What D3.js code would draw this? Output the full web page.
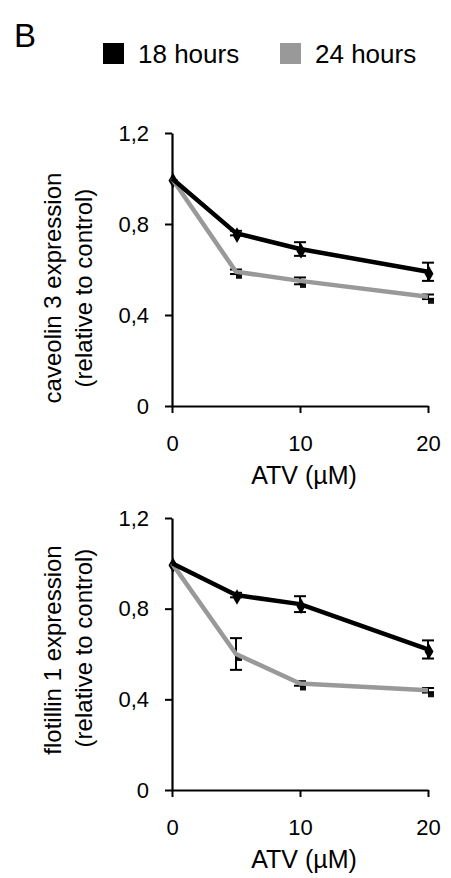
<!DOCTYPE html>
<html>
<head>
<meta charset="utf-8">
<script src="https://cdn.jsdelivr.net/npm/d3@7"></script>
<style>
  body { margin: 0; background: #fff; }
  svg { font-family: "Liberation Sans", Arial, sans-serif; }
</style>
</head>
<body>
<svg id="chart" width="451" height="878"></svg>
<script>
// ATV dose (µM) and tick labels
const doses = [0, 5, 10, 20];
const xTicks = [0, 10, 20];
const yTicks = [0, 0.4, 0.8, 1.2];
const seriesNames = ["18 hours", "24 hours"];

// caveolin 3
const cav18 = [1.0, 0.76, 0.69, 0.59];
const cav18Err = [0, 0.01, 0.03, 0.04];
const cav24 = [1.0, 0.59, 0.55, 0.48];
const cav24Err = [0, 0.01, 0.015, 0.01];

// flotillin 1
const flo18 = [1.0, 0.86, 0.82, 0.62];
const flo18Err = [0, 0.01, 0.035, 0.04];
const flo24 = [1.0, 0.60, 0.47, 0.44];
const flo24Err = [0, 0.07, 0.01, 0.01];

const colors = ["#000000", "#999999"];

const svg = d3.select("#chart");

// panel label
svg.append("text")
  .attr("x", 14).attr("y", 47)
  .attr("font-size", 33)
  .text("B");

// legend
const legendX = [103, 280];
seriesNames.forEach((name, i) => {
  svg.append("rect")
    .attr("x", legendX[i]).attr("y", 43)
    .attr("width", 21).attr("height", 21)
    .attr("fill", colors[i]);
  svg.append("text")
    .attr("x", legendX[i] + 35).attr("y", 63)
    .attr("font-size", 26)
    .text(name);
});

const x = d3.scaleLinear().domain([0, 20]).range([172, 428]);

function panel(y0, y1, titleLines, titleY, s18, e18, s24, e24) {
  const y = d3.scaleLinear().domain([0, 1.2]).range([y0, y1]);
  const g = svg.append("g");

  // axes
  const yAxis = d3.axisLeft(y)
    .tickValues(yTicks)
    .tickSize(7).tickSizeOuter(0).tickPadding(16)
    .tickFormat(d => d3.format("~g")(d).replace(".", ","));
  const ya = g.append("g").attr("transform", `translate(${x(0)},0)`).call(yAxis);

  const xAxis = d3.axisBottom(x)
    .tickValues(xTicks)
    .tickSize(7).tickSizeOuter(0).tickPadding(22)
    .tickFormat(d3.format("d"));
  const xa = g.append("g").attr("transform", `translate(0,${y0})`).call(xAxis);

  [ya, xa].forEach(a => {
    a.select(".domain").attr("stroke", "#000").attr("stroke-width", 2.2);
    a.selectAll(".tick line").attr("stroke", "#000").attr("stroke-width", 2);
    a.selectAll("text").attr("font-size", 22).attr("fill", "#000")
      .attr("font-family", "Liberation Sans, Arial, sans-serif");
  });

  // axis titles
  g.append("text")
    .attr("x", x(10) + 4).attr("y", y0 + 78)
    .attr("text-anchor", "middle").attr("font-size", 25)
    .text("ATV (µM)");

  titleLines.forEach((t, i) => {
    g.append("text")
      .attr("transform", `translate(${61 + i * 31},${titleY[i]}) rotate(-90)`)
      .attr("text-anchor", "middle").attr("font-size", 24)
      .text(t);
  });

  const line = d3.line().x((d, i) => x(doses[i])).y(d => y(d));
  const sets = [[s18, e18], [s24, e24]];

  // markers (sit slightly below/right like the original shadowed symbols)
  g.selectAll(".m18").data(s18).enter().append("path")
    .attr("transform", (d, i) => `translate(${x(doses[i]) + 1},${y(d) + 2})`)
    .attr("d", d3.symbol(d3.symbolDiamond, 70)())
    .attr("fill", "#000");
  g.selectAll(".m24").data(s24).enter().append("rect")
    .attr("x", (d, i) => x(doses[i]))
    .attr("y", d => y(d) + 1)
    .attr("width", 6).attr("height", 6)
    .attr("fill", "#111");

  // error bars
  sets.forEach(([vals, errs]) => {
    vals.forEach((v, i) => {
      if (!errs[i]) return;
      const cx = x(doses[i]);
      const eg = g.append("g").attr("stroke", "#000").attr("stroke-width", 2);
      eg.append("line").attr("x1", cx).attr("x2", cx).attr("y1", y(v - errs[i])).attr("y2", y(v + errs[i]));
      eg.append("line").attr("x1", cx - 6).attr("x2", cx + 6).attr("y1", y(v - errs[i])).attr("y2", y(v - errs[i]));
      eg.append("line").attr("x1", cx - 6).attr("x2", cx + 6).attr("y1", y(v + errs[i])).attr("y2", y(v + errs[i]));
    });
  });

  // lines, gray first then black on top
  [1, 0].forEach(k => {
    g.append("path")
      .datum(sets[k][0])
      .attr("fill", "none")
      .attr("stroke", colors[k])
      .attr("stroke-width", 4.5)
      .attr("stroke-linejoin", "round")
      .attr("d", line);
  });
}

panel(406, 133, ["caveolin 3 expression", "(relative to control)"], [288, 288],
  cav18, cav18Err, cav24, cav24Err);
panel(790, 518, ["flotillin 1 expression", "(relative to control)"], [650, 648],
  flo18, flo18Err, flo24, flo24Err);
</script>
</body>
</html>
